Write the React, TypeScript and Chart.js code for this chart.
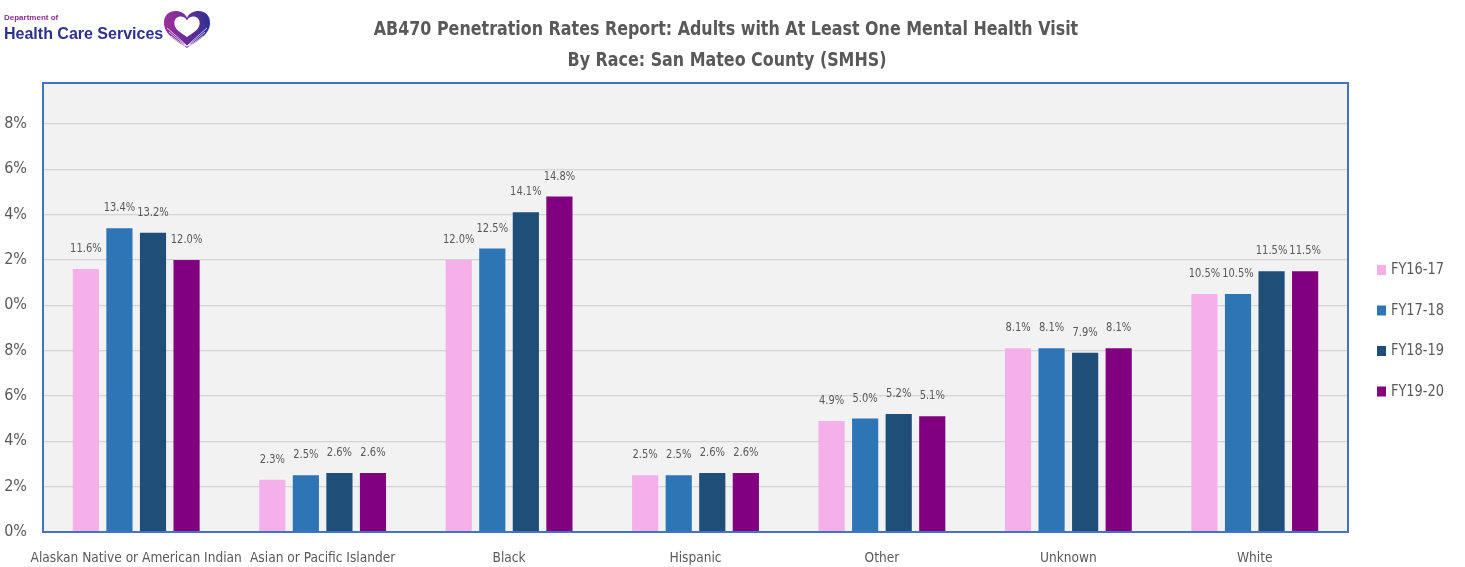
import React, { useEffect, useRef } from "react";
import { Chart, registerables } from "chart.js";

Chart.register(...registerables);

const categories = [
  "Alaskan Native or American Indian",
  "Asian or Pacific Islander",
  "Black",
  "Hispanic",
  "Other",
  "Unknown",
  "White",
];
const seriesLabels = ["FY16-17", "FY17-18", "FY18-19", "FY19-20"];
const fy1617 = [11.6, 2.3, 12.0, 2.5, 4.9, 8.1, 10.5];
const fy1718 = [13.4, 2.5, 12.5, 2.5, 5.0, 8.1, 10.5];
const fy1819 = [13.2, 2.6, 14.1, 2.6, 5.2, 7.9, 11.5];
const fy1920 = [12.0, 2.6, 14.8, 2.6, 5.1, 8.1, 11.5];
const seriesColors = ["#F5B0EA", "#2E75B6", "#1F4E79", "#800080"];
const yTickValues = [0, 2, 4, 6, 8, 10, 12, 14, 16, 18];
const yTickLabels = ["0%", "2%", "4%", "6%", "8%", "0%", "2%", "4%", "6%", "8%"];
const titleLines = [
  "AB470 Penetration Rates Report: Adults with At Least One Mental Health Visit",
  "By Race: San Mateo County (SMHS)",
];

const NARROW = '"DejaVu Sans Condensed", "Liberation Sans", sans-serif';
const GRAY = "#595959";

function squeezeText(ctx: any, text: string, x: number, y: number, sx: number) {
  ctx.save();
  ctx.translate(x, y);
  ctx.scale(sx, 1);
  ctx.fillText(text, 0, 0);
  ctx.restore();
}

const decorPlugin = {
  id: "decor",
  beforeDraw(chart: any) {
    const { ctx, chartArea } = chart;
    ctx.save();
    ctx.fillStyle = "#ffffff";
    ctx.fillRect(0, 0, chart.width, chart.height);
    ctx.fillStyle = "#F2F2F2";
    ctx.fillRect(chartArea.left, chartArea.top, chartArea.right - chartArea.left, chartArea.bottom - chartArea.top);
    ctx.restore();
  },
  afterDraw(chart: any) {
    const { ctx, chartArea } = chart;
    ctx.save();
    // plot border
    ctx.strokeStyle = "#4472C4";
    ctx.lineWidth = 2;
    ctx.strokeRect(chartArea.left, chartArea.top, chartArea.right - chartArea.left, chartArea.bottom - chartArea.top);

    // data labels
    ctx.fillStyle = GRAY;
    ctx.font = `12px ${NARROW}`;
    ctx.textAlign = "center";
    ctx.textBaseline = "middle";
    chart.data.datasets.forEach((ds: any, di: number) => {
      const meta = chart.getDatasetMeta(di);
      meta.data.forEach((el: any, i: number) => {
        squeezeText(ctx, `${Number(ds.data[i]).toFixed(1)}%`, el.x, el.y - 20, 0.92);
      });
    });

    // legend
    ctx.textAlign = "left";
    ctx.font = `16px ${NARROW}`;
    chart.data.datasets.forEach((ds: any, di: number) => {
      const cy = 270 + di * 40.5;
      ctx.fillStyle = ds.backgroundColor;
      ctx.fillRect(1377, cy - 5, 9, 10);
      ctx.fillStyle = GRAY;
      squeezeText(ctx, ds.label, 1391, cy, 0.9);
    });

    // title
    ctx.textAlign = "center";
    ctx.fillStyle = GRAY;
    ctx.font = `bold 20px ${NARROW}`;
    squeezeText(ctx, titleLines[0], 726, 30, 0.884);
    squeezeText(ctx, titleLines[1], 727, 61, 0.884);

    // logo text
    ctx.textAlign = "left";
    ctx.fillStyle = "#8B2C8F";
    ctx.font = `bold 8px "Liberation Sans", sans-serif`;
    ctx.fillText("Department of", 4, 18);
    ctx.fillStyle = "#2E3192";
    ctx.font = `bold 16px "Liberation Sans", sans-serif`;
    ctx.fillText("Health Care Services", 4, 35);

    // logo heart
    const hx = 187, hy = 10;
    const heart = (s: number, ox: number, oy: number) => {
      ctx.beginPath();
      ctx.moveTo(ox, oy + 8 * s);
      ctx.bezierCurveTo(ox - 4 * s, oy - 2 * s, ox - 24 * s, oy - 2 * s, ox - 23 * s, oy + 14 * s);
      ctx.bezierCurveTo(ox - 22 * s, oy + 26 * s, ox - 8 * s, oy + 32 * s, ox, oy + 38 * s);
      ctx.bezierCurveTo(ox + 8 * s, oy + 32 * s, ox + 22 * s, oy + 26 * s, ox + 23 * s, oy + 14 * s);
      ctx.bezierCurveTo(ox + 24 * s, oy - 2 * s, ox + 4 * s, oy - 2 * s, ox, oy + 8 * s);
      ctx.closePath();
    };
    const g = ctx.createLinearGradient(hx - 23, 0, hx + 23, 0);
    g.addColorStop(0, "#A0309A");
    g.addColorStop(0.5, "#6A2C9A");
    g.addColorStop(1, "#2E3192");
    heart(1, hx, hy);
    ctx.fillStyle = g;
    ctx.fill();
    heart(0.55, hx, hy + 6);
    ctx.fillStyle = "#ffffff";
    ctx.fill();
    ctx.strokeStyle = "rgba(255,255,255,0.7)";
    ctx.lineWidth = 1;
    for (let k = 0; k < 4; k++) {
      ctx.beginPath();
      ctx.moveTo(hx - 20 + k * 2, hy + 18 + k * 4);
      ctx.quadraticCurveTo(hx - 6, hy + 30 + k * 2, hx, hy + 36);
      ctx.quadraticCurveTo(hx + 6, hy + 30 + k * 2, hx + 20 - k * 2, hy + 18 + k * 4);
      ctx.stroke();
    }
    ctx.restore();
  },
};

export default function App() {
  const ref = useRef<HTMLCanvasElement | null>(null);
  useEffect(() => {
    if (!ref.current) return;
    const series = [fy1617, fy1718, fy1819, fy1920];
    const chart = new Chart(ref.current, {
      type: "bar",
      data: {
        labels: categories,
        datasets: series.map((d, i) => ({
          label: seriesLabels[i],
          data: d,
          backgroundColor: seriesColors[i],
          borderWidth: 0,
          barPercentage: 0.78,
          categoryPercentage: 0.72,
        })),
      },
      options: {
        animation: false,
        responsive: false,
        maintainAspectRatio: false,
        layout: { padding: { top: 83, right: 117, left: 0, bottom: 0 } },
        plugins: {
          legend: { display: false },
          title: { display: false },
          tooltip: { enabled: false },
        },
        scales: {
          x: {
            grid: { display: false },
            border: { display: false },
            ticks: {
              color: GRAY,
              font: { family: NARROW, size: 13.6 },
              padding: 10,
              maxRotation: 0,
              autoSkip: false,
            },
            afterFit: (s: any) => {
              s.height = 35;
              s.paddingLeft = 0;
              s.paddingRight = 0;
            },
          },
          y: {
            min: 0,
            max: 19.8,
            grid: { color: "#D4D4D4", lineWidth: 1.2, drawTicks: false },
            border: { display: false },
            afterBuildTicks: (s: any) => {
              s.ticks = yTickValues.map((v) => ({ value: v }));
            },
            ticks: {
              color: GRAY,
              font: { family: NARROW, size: 16 },
              padding: 16,
              callback: (v: any) => {
                const idx = yTickValues.indexOf(Number(v));
                return idx >= 0 ? yTickLabels[idx] : "";
              },
            },
            afterFit: (s: any) => {
              s.width = 43;
              s.paddingTop = 0;
              s.paddingBottom = 0;
            },
          },
        },
      },
      plugins: [decorPlugin],
    });
    return () => chart.destroy();
  }, []);
  return (
    <div style={{ position: "fixed", left: 0, top: 0, width: 1465, height: 567, background: "#fff" }}>
      <canvas ref={ref} width={1465} height={567} style={{ width: 1465, height: 567, display: "block" }} />
    </div>
  );
}
